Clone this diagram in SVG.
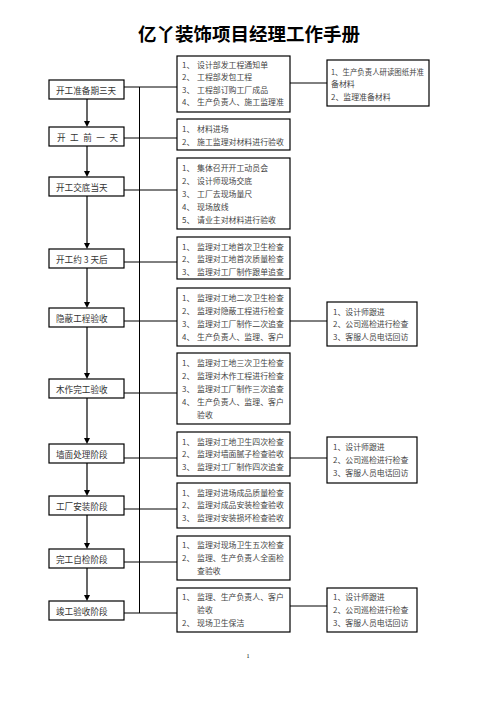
<svg xmlns="http://www.w3.org/2000/svg" width="496" height="702" viewBox="0 0 496 702">
<style>
.bx{fill:#fff;stroke:#000;stroke-width:1.2}
.ln{stroke:#000;stroke-width:1;fill:none}
.t{font-family:"Noto Sans CJK SC","Liberation Serif",sans-serif;font-size:7.9px;fill:#444;dominant-baseline:central}
.lt{font-family:"Noto Sans CJK SC","Liberation Serif",sans-serif;font-size:8.6px;fill:#333;dominant-baseline:central}
.title{font-family:"Noto Sans CJK SC",sans-serif;font-size:18.5px;font-weight:bold;fill:#000;text-anchor:middle}
</style>
<rect width="496" height="702" fill="#fff"/>
<text class="title" x="249" y="41">亿丫装饰项目经理工作手册</text>

<g id="connectors">
<line class="ln" x1="139.5" y1="87" x2="139.5" y2="613"/>
<line class="ln" x1="124" y1="87" x2="177" y2="87"/>
<line class="ln" x1="290" y1="83" x2="327" y2="83"/>
<line class="ln" x1="124" y1="138" x2="177" y2="138"/>
<line class="ln" x1="124" y1="190" x2="177" y2="190"/>
<line class="ln" x1="124" y1="262" x2="177" y2="262"/>
<line class="ln" x1="124" y1="321" x2="177" y2="321"/>
<line class="ln" x1="290" y1="321" x2="327" y2="321"/>
<line class="ln" x1="124" y1="393" x2="177" y2="393"/>
<line class="ln" x1="124" y1="458" x2="177" y2="458"/>
<line class="ln" x1="290" y1="458" x2="327" y2="458"/>
<line class="ln" x1="124" y1="509" x2="177" y2="509"/>
<line class="ln" x1="124" y1="562" x2="177" y2="562"/>
<line class="ln" x1="124" y1="613" x2="177" y2="613"/>
<line class="ln" x1="290" y1="606" x2="327" y2="606"/>
<g stroke="#000" stroke-width="1.2">
<line x1="87" y1="99" x2="87" y2="122"/>
<line x1="87" y1="146" x2="87" y2="172"/>
<line x1="87" y1="196" x2="87" y2="244"/>
<line x1="87" y1="268" x2="87" y2="303"/>
<line x1="87" y1="327" x2="87" y2="374"/>
<line x1="87" y1="398" x2="87" y2="439"/>
<line x1="87" y1="463" x2="87" y2="491"/>
<line x1="87" y1="515" x2="87" y2="544"/>
<line x1="87" y1="568" x2="87" y2="596"/>
</g>
<g fill="#000">
<path d="M84,121 L90,121 L87,127 Z"/>
<path d="M84,171 L90,171 L87,177 Z"/>
<path d="M84,243 L90,243 L87,249 Z"/>
<path d="M84,302 L90,302 L87,308 Z"/>
<path d="M84,373 L90,373 L87,379 Z"/>
<path d="M84,438 L90,438 L87,444 Z"/>
<path d="M84,490 L90,490 L87,496 Z"/>
<path d="M84,543 L90,543 L87,549 Z"/>
<path d="M84,595 L90,595 L87,601 Z"/>
</g>
</g>

<g id="s1"><rect class="bx" x="49" y="80" width="75" height="19"/><text class="lt" x="56" y="89.5">开工准备期三天</text></g>
<g id="s2"><rect class="bx" x="49" y="127" width="75" height="19"/><text class="lt" x="57" y="136.5" letter-spacing="4.5">开工前一天</text></g>
<g id="s3"><rect class="bx" x="49" y="177" width="75" height="19"/><text class="lt" x="56" y="186.5">开工交底当天</text></g>
<g id="s4"><rect class="bx" x="49" y="249" width="75" height="19"/><text class="lt" x="56" y="258.5">开工约 3 天后</text></g>
<g id="s5"><rect class="bx" x="49" y="308" width="75" height="19"/><text class="lt" x="56" y="317.5">隐蔽工程验收</text></g>
<g id="s6"><rect class="bx" x="49" y="379" width="75" height="19"/><text class="lt" x="56" y="388.5">木作完工验收</text></g>
<g id="s7"><rect class="bx" x="49" y="444" width="75" height="19"/><text class="lt" x="56" y="453.5">墙面处理阶段</text></g>
<g id="s8"><rect class="bx" x="49" y="496" width="75" height="19"/><text class="lt" x="56" y="505.5">工厂安装阶段</text></g>
<g id="s9"><rect class="bx" x="49" y="549" width="75" height="19"/><text class="lt" x="56" y="558.5">完工自检阶段</text></g>
<g id="s10"><rect class="bx" x="49" y="601" width="75" height="19"/><text class="lt" x="56" y="610.5">竣工验收阶段</text></g>

<g id="m1"><rect class="bx" x="177" y="56" width="113" height="56"/>
<text class="t" x="182" y="64">1、</text><text class="t" x="197" y="64">设计部发工程通知单</text>
<text class="t" x="182" y="76.5">2、</text><text class="t" x="197" y="76.5">工程部发包工程</text>
<text class="t" x="182" y="89">3、</text><text class="t" x="197" y="89">工程部订购工厂成品</text>
<text class="t" x="182" y="101.5">4、</text><text class="t" x="197" y="101.5">生产负责人、施工监理准</text></g>
<g id="m2"><rect class="bx" x="177" y="119" width="113" height="31"/>
<text class="t" x="182" y="128.5">1、</text><text class="t" x="197" y="128.5">材料进场</text>
<text class="t" x="182" y="141.5">2、</text><text class="t" x="197" y="141.5">施工监理对材料进行验收</text></g>
<g id="m3"><rect class="bx" x="177" y="158" width="113" height="71"/>
<text class="t" x="182" y="167">1、</text><text class="t" x="197" y="167">集体召开开工动员会</text>
<text class="t" x="182" y="180.5">2、</text><text class="t" x="197" y="180.5">设计师现场交底</text>
<text class="t" x="182" y="193.5">3、</text><text class="t" x="197" y="193.5">工厂去现场量尺</text>
<text class="t" x="182" y="206.5">4、</text><text class="t" x="197" y="206.5">现场放线</text>
<text class="t" x="182" y="219.5">5、</text><text class="t" x="197" y="219.5">请业主对材料进行验收</text></g>
<g id="m4"><rect class="bx" x="177" y="237" width="113" height="42"/>
<text class="t" x="182" y="246">1、</text><text class="t" x="197" y="246">监理对工地首次卫生检查</text>
<text class="t" x="182" y="258.5">2、</text><text class="t" x="197" y="258.5">监理对工地首次质量检查</text>
<text class="t" x="182" y="271">3、</text><text class="t" x="197" y="271">监理对工厂制作跟单追查</text></g>
<g id="m5"><rect class="bx" x="177" y="288" width="113" height="58"/>
<text class="t" x="182" y="297">1、</text><text class="t" x="197" y="297">监理对工地二次卫生检查</text>
<text class="t" x="182" y="310">2、</text><text class="t" x="197" y="310">监理对隐蔽工程进行检查</text>
<text class="t" x="182" y="323.5">3、</text><text class="t" x="197" y="323.5">监理对工厂制作二次追查</text>
<text class="t" x="182" y="336.5">4、</text><text class="t" x="197" y="336.5">生产负责人、监理、客户</text></g>
<g id="m6"><rect class="bx" x="177" y="353" width="113" height="71"/>
<text class="t" x="182" y="362">1、</text><text class="t" x="197" y="362">监理对工地三次卫生检查</text>
<text class="t" x="182" y="375">2、</text><text class="t" x="197" y="375">监理对木作工程进行检查</text>
<text class="t" x="182" y="388">3、</text><text class="t" x="197" y="388">监理对工厂制作三次追查</text>
<text class="t" x="182" y="401.5">4、</text><text class="t" x="197" y="401.5">生产负责人、监理、客户</text>
<text class="t" x="197" y="414">验收</text></g>
<g id="m7"><rect class="bx" x="177" y="432" width="113" height="44"/>
<text class="t" x="182" y="441">1、</text><text class="t" x="197" y="441">监理对工地卫生四次检查</text>
<text class="t" x="182" y="453.5">2、</text><text class="t" x="197" y="453.5">监理对墙面腻子检查验收</text>
<text class="t" x="182" y="466.5">3、</text><text class="t" x="197" y="466.5">监理对工厂制作四次追查</text></g>
<g id="m8"><rect class="bx" x="177" y="483" width="113" height="45"/>
<text class="t" x="182" y="492">1、</text><text class="t" x="197" y="492">监理对进场成品质量检查</text>
<text class="t" x="182" y="504.5">2、</text><text class="t" x="197" y="504.5">监理对成品安装检查验收</text>
<text class="t" x="182" y="517">3、</text><text class="t" x="197" y="517">监理对安装损坏检查验收</text></g>
<g id="m9"><rect class="bx" x="177" y="536" width="113" height="44"/>
<text class="t" x="182" y="544.5">1、</text><text class="t" x="197" y="544.5">监理对现场卫生五次检查</text>
<text class="t" x="182" y="557.5">2、</text><text class="t" x="197" y="557.5">监理、生产负责人全面检</text>
<text class="t" x="197" y="570">查验收</text></g>
<g id="m10"><rect class="bx" x="177" y="588" width="113" height="44"/>
<text class="t" x="182" y="596.5">1、</text><text class="t" x="197" y="596.5">监理、生产负责人、客户</text>
<text class="t" x="197" y="609">验收</text>
<text class="t" x="182" y="622.5">2、</text><text class="t" x="197" y="622.5">现场卫生保洁</text></g>

<g id="r1"><rect class="bx" x="327" y="60" width="102" height="46"/>
<text class="t" x="331" y="71" textLength="93" lengthAdjust="spacingAndGlyphs">1、生产负责人研读图纸并准</text>
<text class="t" x="331" y="83.5">备材料</text>
<text class="t" x="331" y="96">2、监理准备材料</text></g>
<g id="r2"><rect class="bx" x="327" y="302" width="90" height="44"/>
<text class="t" x="333" y="311">1、设计师跟进</text>
<text class="t" x="333" y="323.5">2、公司巡检进行检查</text>
<text class="t" x="333" y="336">3、客服人员电话回访</text></g>
<g id="r3"><rect class="bx" x="327" y="437" width="90" height="46"/>
<text class="t" x="333" y="446">1、设计师跟进</text>
<text class="t" x="333" y="459">2、公司巡检进行检查</text>
<text class="t" x="333" y="472">3、客服人员电话回访</text></g>
<g id="r4"><rect class="bx" x="327" y="588" width="90" height="44"/>
<text class="t" x="333" y="596.5">1、设计师跟进</text>
<text class="t" x="333" y="609.5">2、公司巡检进行检查</text>
<text class="t" x="333" y="622.5">3、客服人员电话回访</text></g>

<text x="248" y="658" font-family="Liberation Serif,serif" font-size="6" fill="#000" text-anchor="middle">1</text>
</svg>
